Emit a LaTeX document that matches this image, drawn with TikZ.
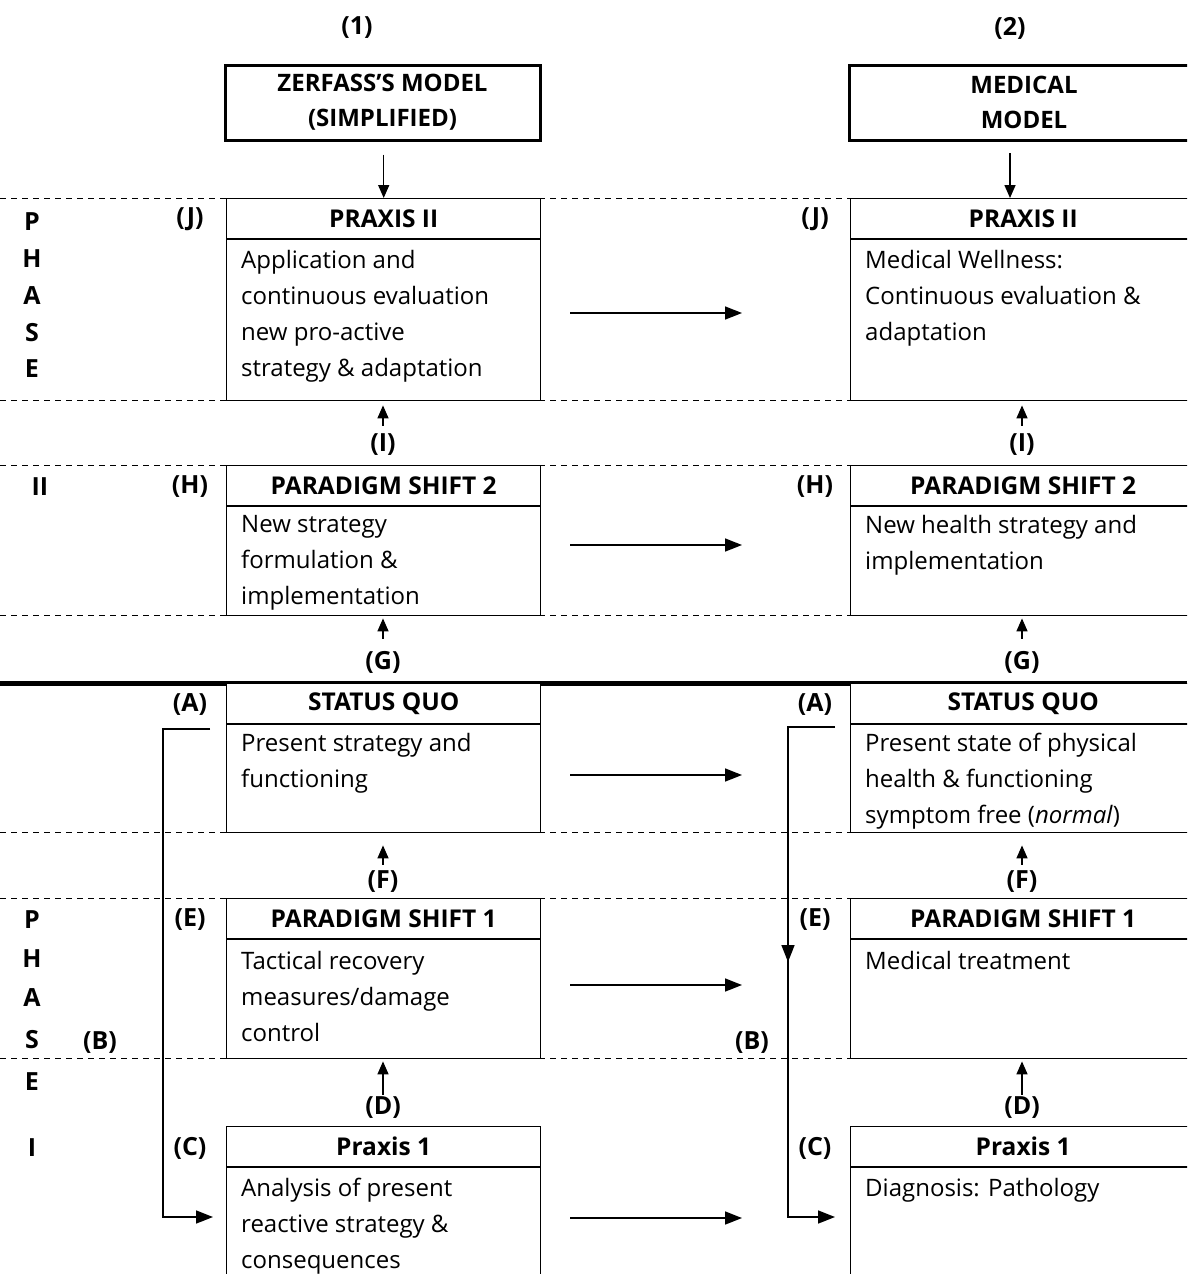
\documentclass[tikz,border=0pt]{standalone}
\usepackage{fontspec}
\setmainfont{Open Sans}
\usetikzlibrary{arrows.meta}

% box with a header strip: name, left x, top y, width, height, header text
\newcommand\stagebox[6]{%
  \node[box, minimum width=#4pt, minimum height=#5pt] (#1) at (#2,#3) {};
  \draw[frame] ([yshift=-41pt]#1.north west) -- ([yshift=-41pt]#1.north east);
  \node[head] (#1h) at ([yshift=-20.5pt]#1.north) {#6};
}

\begin{document}
\begin{tikzpicture}[x=1pt,y=-1pt,
  frame/.style={line width=1.4pt},
  box/.style={draw, frame, rectangle, inner sep=0pt, anchor=north west, fill=white},
  modelbox/.style={draw, line width=3pt, rectangle, inner sep=0pt, align=center,
    font=\fontsize{24}{35}\selectfont\bfseries},
  head/.style={inner sep=0pt, font=\fontsize{24.5}{30}\selectfont\bfseries},
  body/.style={inner sep=0pt, anchor=north west, align=left,
    font=\fontsize{24}{36}\selectfont},
  tag/.style={inner sep=0pt, font=\fontsize{25}{30}\selectfont\bfseries},
  guide/.style={line width=1pt, dash pattern=on 6pt off 5pt},
  arr/.style={line width=1.6pt, -{Triangle[length=17pt,width=13pt]}},
  sarr/.style={line width=1.5pt, -{Triangle[length=13pt,width=11pt]}},
]
\useasboundingbox (0,0) rectangle (1187,1274);
\clip (0,0) rectangle (1187,1274);

% phase guide lines
\foreach \yy in {198,400,465,615,832,898,1058}
  \draw[guide] (0,\yy) -- (1187,\yy);
\draw[line width=5pt] (0,683) -- (1187,683);

% column titles and model boxes
\node[tag] (t1) at (357,28) {(1)};
\node[tag] (t2) at (1010,28) {(2)};
\node[modelbox, minimum width=315pt, minimum height=75pt] (zm) at (382.5,102.5)
  {ZERFASS'S MODEL\\(SIMPLIFIED)};
\node[modelbox, minimum width=350pt, minimum height=75pt] (mm) at (1024,102.5)
  {MEDICAL\\MODEL};

% left column
\stagebox{zJ}{226}{198}{314}{202}{PRAXIS II}
\stagebox{zH}{226}{465}{314}{150}{PARADIGM SHIFT 2}
\stagebox{zA}{226}{683}{314}{149}{STATUS QUO}
\stagebox{zE}{226}{898}{314}{160}{PARADIGM SHIFT 1}
\stagebox{zC}{226}{1126}{314}{170}{Praxis 1}

% right column
\stagebox{mJ}{850}{198}{345}{202}{PRAXIS II}
\stagebox{mH}{850}{465}{345}{150}{PARADIGM SHIFT 2}
\stagebox{mA}{850}{683}{345}{149}{STATUS QUO}
\stagebox{mE}{850}{898}{345}{160}{PARADIGM SHIFT 1}
\stagebox{mC}{850}{1126}{345}{170}{Praxis 1}

% box texts
\node[body] (zJb) at (241,250) {Application and\\continuous evaluation\\new pro-active\\strategy \& adaptation};
\node[body] (zHb) at (241,515) {New strategy\\formulation \&\\implementation};
\node[body] (zAb) at (241,733) {Present strategy and\\functioning};
\node[body] (zEb) at (241,951) {Tactical recovery\\measures/damage\\control};
\node[body] (zCb) at (241,1178) {Analysis of present\\reactive strategy \&\\consequences};

\node[body] (mJb) at (865,250) {Medical Wellness:\\Continuous evaluation \&\\adaptation};
\node[body] (mHb) at (865,515) {New health strategy and\\implementation};
\node[body] (mAb) at (865,733) {Present state of physical\\health \& functioning\\symptom free (\textit{normal})};
\node[body] (mEb) at (865,951) {Medical treatment};
\node[body] (mCb) at (865,1178) {Diagnosis: Pathology};

% stage tags
\foreach \n/\t/\yy in {J/J/219,H/H/487,A/A/705,E/E/920,C/C/1148}{
  \node[tag] (zt\n) at (190,\yy) {(\t)};
  \node[tag] (mt\n) at (815,\yy) {(\t)};
}
\node[tag] (ztB) at (100,1043) {(B)};
\node[tag] (mtB) at (752,1043) {(B)};

% phase captions
\foreach \c/\yy [count=\i] in {P/222,H/259,A/296,S/333,E/369}
  \node[tag] (ph2\i) at (32,\yy) {\c};
\node[tag] (ph2n) at (40,487) {II};
\foreach \c/\yy [count=\i] in {P/920,H/959,A/998,S/1040,E/1082,I/1148}
  \node[tag] (ph1\i) at (32,\yy) {\c};

% transition tags between stages
\node[tag] (zlI) at (383,445) {(I)};
\node[tag] (zlG) at (383,662) {(G)};
\node[tag] (zlF) at (383,882) {(F)};
\node[tag] (zlD) at (383,1108) {(D)};
\node[tag] (mlI) at (1022,445) {(I)};
\node[tag] (mlG) at (1022,662) {(G)};
\node[tag] (mlF) at (1022,882) {(F)};
\node[tag] (mlD) at (1022,1108) {(D)};

% model boxes feed the top stage
\draw[sarr] ([yshift=-13pt]zm.south -| zJ.north) -- (zJ.north);
\coordinate (mmOut) at (1010,153);
\draw[sarr] (mmOut) -- (mmOut |- mJ.north);

% upward transitions
\foreach \s in {z,m}{
  \draw[sarr] (\s lI.north) ++(0,-8) -- ([yshift=-4pt]\s lI.north |- \s J.south);
  \draw[sarr] (\s lG.north) ++(0,-12) -- ([yshift=-2pt]\s lG.north |- \s H.south);
  \draw[sarr] (\s lF.north) ++(0,-6) -- ([yshift=-12pt]\s lF.north |- \s A.south);
  \draw[sarr] (\s lD.north) ++(0,-2) -- ([yshift=-2pt]\s lD.north |- \s E.south);
}

% correspondences between the two models
\foreach \yy [count=\i] in {313,545,775,985,1218}{
  \coordinate (hs\i) at (570,\yy);
  \coordinate (he\i) at (742,\yy);
  \draw[arr] (hs\i) -- (he\i);
}

% route (A) -> (B) -> (C), left model
\coordinate (zAs) at (210,729);
\coordinate (zAc) at (163,729);
\coordinate (zCin) at (213,1217);
\draw[arr] (zAs) -- (zAc) |- (zCin);

% route (A) -> (B) -> (C), right model
\coordinate (mAs) at (835,727);
\coordinate (mAc) at (788,727);
\coordinate (mBd) at (788,962);
\coordinate (mCin) at (835,1217);
\draw[arr] (mAs) -- (mAc) |- (mCin);
\draw[arr] (mAc) -- (mBd);
\end{tikzpicture}
\end{document}
